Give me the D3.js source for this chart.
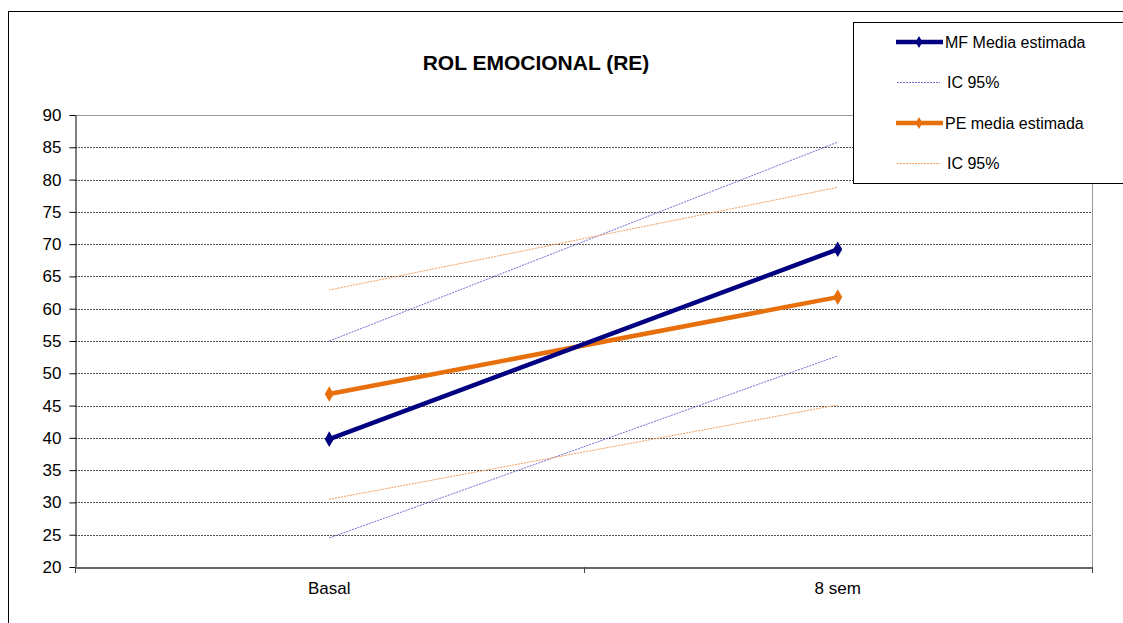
<!DOCTYPE html>
<html>
<head>
<meta charset="utf-8">
<script src="https://cdn.jsdelivr.net/npm/d3@7"></script>
<style>
  body { margin: 0; background: #fff; }
  text { font-family: "Liberation Sans", Arial, sans-serif; }
</style>
</head>
<body>
<div id="chart"></div>
<script>
// categories and series
var categories = ["Basal", "8 sem"];
var yTicks = [20, 25, 30, 35, 40, 45, 50, 55, 60, 65, 70, 75, 80, 85, 90];
var mfMedia = [39.8, 69.2];
var mfLow = [24.5, 52.7];
var mfHigh = [55.0, 85.8];
var peMedia = [46.8, 61.8];
var peLow = [30.5, 45.1];
var peHigh = [62.9, 78.8];

var W = 1123, H = 623;
var margin = {top: 115, left: 75, right: 1092, bottom: 567};

var svg = d3.select("#chart").append("svg")
  .attr("width", W).attr("height", H);

// outer frame
svg.append("rect")
  .attr("x", 8.5).attr("y", 11.5)
  .attr("width", 1130).attr("height", 630)
  .attr("fill", "none").attr("stroke", "#000").attr("stroke-width", 1);

var x = d3.scaleBand().domain(categories).range([margin.left, margin.right]);
var y = d3.scaleLinear().domain([20, 90]).range([margin.bottom, margin.top]);

// gridlines
svg.append("g").selectAll("line")
  .data(yTicks.filter(function(d) { return d > 20 && d < 90; }))
  .enter().append("line")
    .attr("x1", margin.left).attr("x2", margin.right)
    .attr("y1", function(d) { return Math.round(y(d)) + 0.5; })
    .attr("y2", function(d) { return Math.round(y(d)) + 0.5; })
    .attr("stroke", "#555").attr("stroke-width", 1)
    .attr("stroke-dasharray", "2,1");

// top and right borders of plot
svg.append("line")
  .attr("x1", margin.left).attr("x2", margin.right)
  .attr("y1", Math.round(y(90)) + 0.5).attr("y2", Math.round(y(90)) + 0.5)
  .attr("stroke", "#999");
svg.append("line")
  .attr("x1", margin.right + 0.5).attr("x2", margin.right + 0.5)
  .attr("y1", margin.top).attr("y2", margin.bottom)
  .attr("stroke", "#999");

// y axis
var yAxis = svg.append("g")
  .attr("transform", "translate(" + (margin.left + 0.5) + ",0)")
  .call(d3.axisLeft(y).tickValues(yTicks).tickSize(6).tickPadding(8).tickSizeOuter(0));
yAxis.select(".domain").attr("stroke", "#000");
yAxis.selectAll(".tick line").attr("stroke", "#000");
yAxis.selectAll("text").style("font-size", "17px").attr("fill", "#000");

// x axis
var xAxis = svg.append("g")
  .attr("transform", "translate(0," + (margin.bottom + 0.5) + ")")
  .call(d3.axisBottom(x).tickSize(0).tickPadding(14));
xAxis.select(".domain").attr("stroke", "#666").attr("stroke-width", 2);
xAxis.selectAll("text").style("font-size", "17px").attr("fill", "#000");
// category boundary ticks
svg.append("g").selectAll("line")
  .data([margin.left, x("8 sem"), margin.right])
  .enter().append("line")
    .attr("x1", function(d) { return Math.round(d) + 0.5; })
    .attr("x2", function(d) { return Math.round(d) + 0.5; })
    .attr("y1", margin.bottom).attr("y2", margin.bottom + 6)
    .attr("stroke", "#444");

var cx = function(d, i) { return x(categories[i]) + x.bandwidth() / 2; };
var line = d3.line().x(function(d, i) { return cx(d, i); }).y(function(d) { return y(d); });

// confidence lines
var ciSeries = [
  {data: mfHigh, color: "#7070D0"},
  {data: mfLow, color: "#7070D0"},
  {data: peHigh, color: "#F4A060"},
  {data: peLow, color: "#F4A060"}
];
svg.append("g").selectAll("path")
  .data(ciSeries).enter().append("path")
    .attr("d", function(d) { return line(d.data); })
    .attr("fill", "none")
    .attr("stroke", function(d) { return d.color; })
    .attr("stroke-width", 1)
    .attr("stroke-dasharray", "2,1");

// main series
var mainSeries = [
  {data: peMedia, color: "#E8700C"},
  {data: mfMedia, color: "#000080"}
];
var diamond = d3.symbol().type(d3.symbolDiamond).size(70);
mainSeries.forEach(function(s) {
  svg.append("path")
    .attr("d", line(s.data))
    .attr("fill", "none")
    .attr("stroke", s.color)
    .attr("stroke-width", 4.5);
  svg.append("g").selectAll("path")
    .data(s.data).enter().append("path")
      .attr("d", diamond)
      .attr("transform", function(d, i) { return "translate(" + cx(d, i) + "," + y(d) + ")"; })
      .attr("fill", s.color);
});

// title
svg.append("text")
  .attr("x", 536).attr("y", 70)
  .attr("text-anchor", "middle")
  .style("font-size", "21px").style("font-weight", "bold")
  .text("ROL EMOCIONAL (RE)");

// legend
var legendItems = [
  {label: "MF Media estimada", color: "#000080", main: true},
  {label: "IC 95%", color: "#7070D0", main: false},
  {label: "PE media estimada", color: "#E8700C", main: true},
  {label: "IC 95%", color: "#F4A060", main: false}
];
var legend = svg.append("g");
legend.append("rect")
  .attr("x", 853.5).attr("y", 22.5).attr("width", 300).attr("height", 161)
  .attr("fill", "#fff").attr("stroke", "#000");
var li = legend.selectAll("g.item").data(legendItems).enter().append("g")
  .attr("transform", function(d, i) { return "translate(0," + (42 + i * 40.5) + ")"; });
li.append("line")
  .attr("x1", function(d) { return d.main ? 896 : 897; })
  .attr("x2", function(d) { return d.main ? 943 : 940; })
  .attr("stroke", function(d) { return d.color; })
  .attr("stroke-width", function(d) { return d.main ? 4.5 : 1; })
  .attr("stroke-dasharray", function(d) { return d.main ? null : "2,1"; });
li.filter(function(d) { return d.main; }).append("path")
  .attr("d", d3.symbol().type(d3.symbolDiamond).size(40))
  .attr("transform", "translate(919,0)")
  .attr("fill", function(d) { return d.color; });
li.append("text")
  .attr("x", function(d) { return d.main ? 945 : 947; })
  .attr("dy", "0.35em")
  .style("font-size", "16px")
  .text(function(d) { return d.label; });
</script>
</body>
</html>
